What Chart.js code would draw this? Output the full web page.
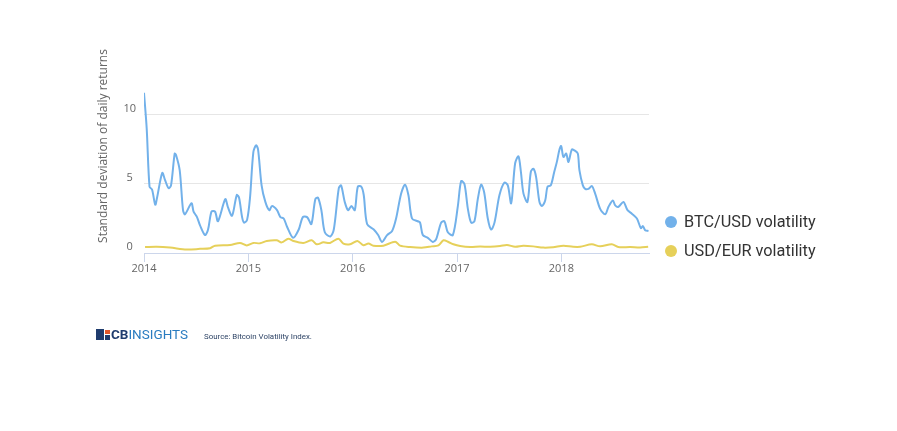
<!DOCTYPE html>
<html>
<head>
<meta charset="utf-8">
<script src="https://cdn.jsdelivr.net/npm/chart.js@4.4.0/dist/chart.umd.min.js"></script>
<style>
  body { margin: 0; background: #fff; }
  #wrap { position: relative; width: 897px; height: 431px; }
  #legend { position: absolute; left: 665px; top: 210px; font-family: Roboto, sans-serif; font-size: 16.3px; color: #333; }
  #legend .item { height: 29px; line-height: 24px; white-space: nowrap; }
  #legend .dot { display: inline-block; width: 12px; height: 12px; border-radius: 50%; margin-right: 7px; vertical-align: -1px; }
  #footer { position: absolute; left: 96px; top: 328px; height: 14px; font-family: Roboto, sans-serif; }
  .logo-icon { position: absolute; left: 0; top: 1px; width: 14px; height: 11px; }
  .logo-icon .a { position: absolute; left: 0; top: 0; width: 8px; height: 11px; background: #1f3c6e; }
  .logo-icon .b { position: absolute; left: 9px; top: 1px; width: 5px; height: 4px; background: #e0572b; }
  .logo-icon .c { position: absolute; left: 9px; top: 6px; width: 5px; height: 5px; background: #1f3c6e; }
  .logo-text { position: absolute; left: 15px; top: -2.5px; font-size: 13.5px; color: #2a7cc0; white-space: nowrap; }
  .logo-text b { color: #1f3c6e; font-weight: 700; }
  .source { position: absolute; left: 108px; top: 3.5px; font-size: 7.9px; color: #2e4466; white-space: nowrap; }
</style>
</head>
<body>
<div id="wrap">
  <canvas id="chart" width="897" height="431"></canvas>
  <div id="legend"></div>
  <div id="footer">
    <div class="logo-icon"><div class="a"></div><div class="b"></div><div class="c"></div></div>
    <div class="logo-text"><b>CB</b>INSIGHTS</div>
    <div class="source">Source: Bitcoin Volatility Index.</div>
  </div>
</div>
<script>
const yearTicks = [2014, 2015, 2016, 2017, 2018];
const valueTicks = [0, 5, 10];

const btcYears = [2014.000, 2014.026, 2014.053, 2014.077, 2014.108, 2014.125, 2014.175, 2014.201, 2014.235, 2014.259,
  2014.294, 2014.307, 2014.342, 2014.374, 2014.393, 2014.455, 2014.475, 2014.508, 2014.537, 2014.585,
  2014.614, 2014.647, 2014.681, 2014.709, 2014.779, 2014.805, 2014.844, 2014.889, 2014.911, 2014.940,
  2014.959, 2014.988, 2015.016, 2015.048, 2015.074, 2015.093, 2015.127, 2015.163, 2015.201, 2015.227,
  2015.275, 2015.307, 2015.339, 2015.371, 2015.429, 2015.483, 2015.522, 2015.563, 2015.604, 2015.642,
  2015.668, 2015.700, 2015.733, 2015.786, 2015.819, 2015.867, 2015.889, 2015.924, 2015.956, 2015.988,
  2016.020, 2016.049, 2016.083, 2016.106, 2016.138, 2016.202, 2016.244, 2016.282, 2016.330, 2016.378,
  2016.416, 2016.464, 2016.502, 2016.534, 2016.569, 2016.624, 2016.646, 2016.672, 2016.720, 2016.768,
  2016.800, 2016.848, 2016.879, 2016.912, 2016.960, 2017.008, 2017.039, 2017.071, 2017.104, 2017.135,
  2017.167, 2017.199, 2017.231, 2017.260, 2017.295, 2017.327, 2017.359, 2017.407, 2017.454, 2017.487,
  2017.519, 2017.557, 2017.589, 2017.612, 2017.637, 2017.675, 2017.708, 2017.733, 2017.758, 2017.790,
  2017.813, 2017.845, 2017.867, 2017.899, 2017.931, 2017.957, 2017.982, 2017.998, 2018.020, 2018.046,
  2018.068, 2018.101, 2018.132, 2018.158, 2018.173, 2018.206, 2018.228, 2018.260, 2018.292, 2018.324,
  2018.372, 2018.420, 2018.452, 2018.494, 2018.516, 2018.548, 2018.595, 2018.634, 2018.676, 2018.724,
  2018.762, 2018.781, 2018.803, 2018.835];
const btcValues = [11.6, 9.0, 4.8, 4.6, 3.5, 4.0, 5.8, 5.3, 4.7, 4.9,
  7.2, 7.1, 6.0, 3.1, 2.8, 3.6, 3.0, 2.6, 2.0, 1.3,
  1.7, 3.0, 3.0, 2.3, 3.9, 3.3, 2.7, 4.2, 4.0, 2.6,
  2.2, 2.4, 4.0, 7.3, 7.8, 7.5, 4.9, 3.7, 3.1, 3.4,
  3.1, 2.6, 2.5, 1.9, 1.1, 1.7, 2.6, 2.6, 2.1, 3.9,
  4.0, 3.1, 1.5, 1.2, 1.7, 4.7, 4.9, 3.7, 3.1, 3.4,
  3.1, 4.8, 4.8, 4.2, 2.1, 1.7, 1.3, 0.8, 1.3, 1.6,
  2.5, 4.3, 4.95, 4.2, 2.5, 2.3, 2.2, 1.3, 1.1, 0.8,
  1.0, 2.2, 2.3, 1.5, 1.3, 3.4, 5.2, 5.0, 3.2, 2.2,
  2.3, 3.9, 4.95, 4.4, 2.5, 1.7, 2.2, 4.2, 5.1, 4.9,
  3.6, 6.5, 7.0, 5.9, 4.3, 3.7, 5.9, 6.1, 5.5, 3.7,
  3.4, 3.8, 4.8, 4.9, 5.85, 6.6, 7.5, 7.75, 6.95, 7.2,
  6.6, 7.5, 7.4, 7.2, 6.0, 4.9, 4.65, 4.65, 4.85, 4.3,
  3.2, 2.8, 3.35, 3.8, 3.45, 3.35, 3.7, 3.1, 2.85, 2.5,
  1.8, 1.95, 1.65, 1.6];

const eurYears = [2014.010, 2014.122, 2014.249, 2014.409, 2014.537, 2014.633, 2014.681, 2014.825, 2014.920, 2014.985,
  2015.048, 2015.112, 2015.176, 2015.272, 2015.320, 2015.384, 2015.431, 2015.527, 2015.608, 2015.656,
  2015.719, 2015.783, 2015.863, 2015.911, 2015.975, 2016.045, 2016.103, 2016.151, 2016.198, 2016.294,
  2016.407, 2016.454, 2016.550, 2016.678, 2016.758, 2016.822, 2016.870, 2016.918, 2016.965, 2017.030,
  2017.126, 2017.221, 2017.317, 2017.413, 2017.478, 2017.557, 2017.634, 2017.730, 2017.828, 2017.921,
  2018.020, 2018.113, 2018.180, 2018.292, 2018.372, 2018.484, 2018.545, 2018.660, 2018.755, 2018.832];
const eurValues = [0.43, 0.45, 0.39, 0.25, 0.30, 0.35, 0.53, 0.58, 0.73, 0.55,
  0.73, 0.70, 0.87, 0.92, 0.77, 1.04, 0.87, 0.73, 0.92, 0.63,
  0.77, 0.73, 1.04, 0.68, 0.63, 0.87, 0.56, 0.68, 0.53, 0.53,
  0.82, 0.53, 0.43, 0.39, 0.48, 0.55, 0.92, 0.80, 0.63, 0.50,
  0.43, 0.47, 0.45, 0.50, 0.58, 0.45, 0.52, 0.48, 0.39, 0.42,
  0.53, 0.45, 0.45, 0.63, 0.48, 0.63, 0.43, 0.43, 0.40, 0.45];

const seriesNames = ["BTC/USD volatility", "USD/EUR volatility"];
const seriesColors = ["#72b1ea", "#e6d05a"];

function toPoints(xs, ys) {
  return xs.map((x, i) => ({ x: x, y: ys[i] }));
}

const axisFont = { family: "'Open Sans', sans-serif", size: 11 };

const chart = new Chart(document.getElementById("chart"), {
  type: "line",
  data: {
    datasets: [
      {
        label: seriesNames[0],
        data: toPoints(btcYears, btcValues),
        borderColor: seriesColors[0],
        borderWidth: 2,
        pointRadius: 0,
        tension: 0.3
      },
      {
        label: seriesNames[1],
        data: toPoints(eurYears, eurValues),
        borderColor: seriesColors[1],
        borderWidth: 2,
        pointRadius: 0,
        tension: 0.3
      }
    ]
  },
  options: {
    responsive: false,
    animation: false,
    layout: { padding: { left: 96, right: 248, top: 39, bottom: 148 } },
    plugins: { legend: { display: false }, tooltip: { enabled: false } },
    scales: {
      x: {
        type: "linear",
        min: 2014,
        max: 2018.84,
        afterBuildTicks: (scale) => { scale.ticks = yearTicks.map(v => ({ value: v })); },
        afterFit: (scale) => { scale.height = 30; },
        ticks: {
          autoSkip: false,
          maxRotation: 0,
          padding: 0,
          color: "#666",
          font: axisFont,
          callback: (v) => String(v)
        },
        grid: { drawOnChartArea: false, drawTicks: true, tickLength: 9, color: "#ccd6eb" },
        border: { display: true, color: "#ccd6eb", width: 1 }
      },
      y: {
        min: 0,
        max: 15.5,
        afterBuildTicks: (scale) => { scale.ticks = valueTicks.map(v => ({ value: v })); },
        afterFit: (scale) => { scale.width = 48; },
        ticks: {
          crossAlign: "center",
          padding: 8,
          labelOffset: -6,
          color: "#666",
          font: axisFont
        },
        grid: {
          drawTicks: false,
          color: (ctx) => (ctx.tick && ctx.tick.value === 0 ? "rgba(0,0,0,0)" : "#e6e6e6")
        },
        border: { display: false },
        title: {
          display: true,
          text: "Standard deviation of daily returns",
          color: "#666",
          font: { family: "'Open Sans', sans-serif", size: 12 },
          padding: 0
        }
      }
    }
  }
});

// HTML legend from the chart's datasets
const legendEl = document.getElementById("legend");
chart.data.datasets.forEach((ds) => {
  const item = document.createElement("div");
  item.className = "item";
  const dot = document.createElement("span");
  dot.className = "dot";
  dot.style.background = ds.borderColor;
  item.appendChild(dot);
  item.appendChild(document.createTextNode(ds.label));
  legendEl.appendChild(item);
});
</script>
</body>
</html>
